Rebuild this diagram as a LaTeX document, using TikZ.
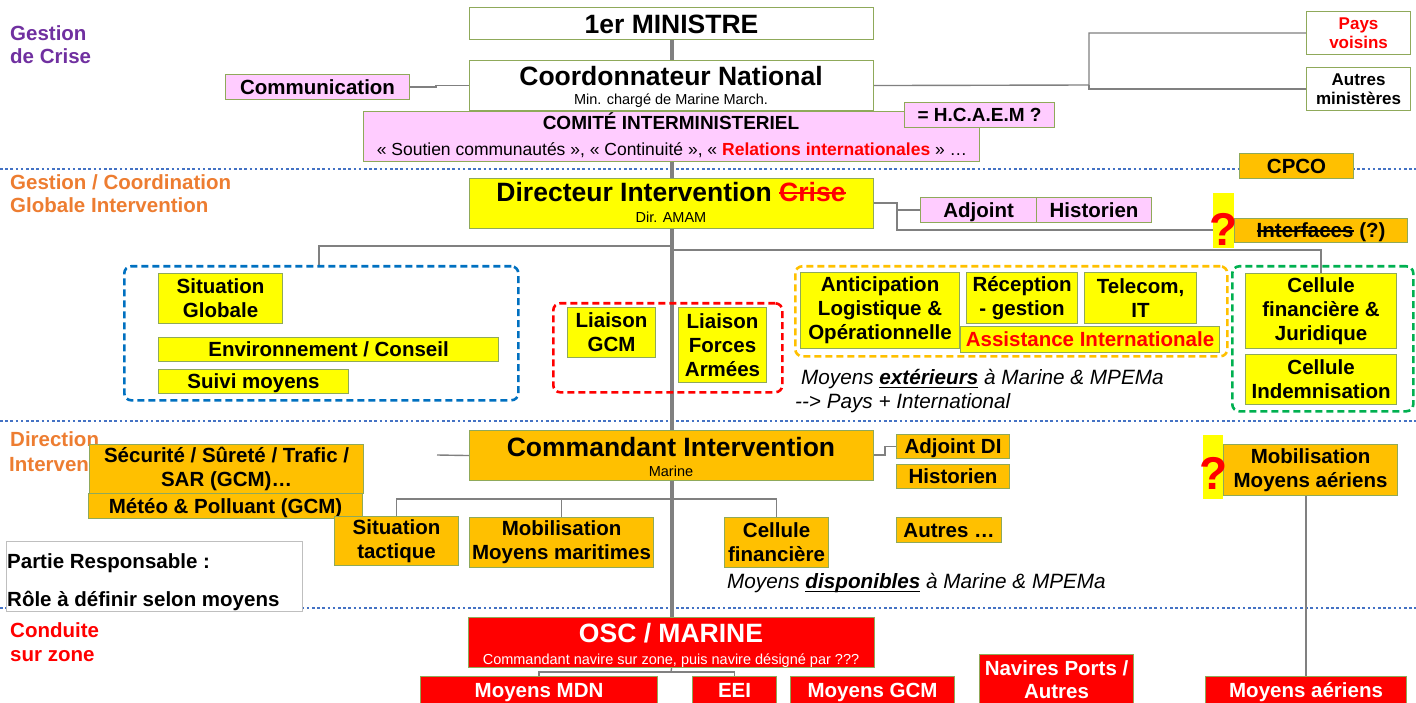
\documentclass[tikz,border=0pt]{standalone}
\usepackage{fontspec}
\setmainfont{Liberation Sans}
\usetikzlibrary{calc}
\pgfdeclarelayer{bg}
\pgfsetlayers{bg,main}
\definecolor{bord}{HTML}{8FA95A}
\definecolor{lgrey}{HTML}{808080}
\definecolor{pgrey}{HTML}{BFBFBF}
\definecolor{pinkc}{HTML}{FFCCFF}
\definecolor{yel}{HTML}{FFFF00}
\definecolor{org}{HTML}{FFC000}
\definecolor{redc}{HTML}{FF0000}
\definecolor{dblue}{HTML}{4472C4}
\definecolor{gblue}{HTML}{0070C0}
\definecolor{ggreen}{HTML}{00B050}
\definecolor{purp}{HTML}{7030A0}
\definecolor{orng}{HTML}{ED7D31}
\newcommand\fsz[2]{\fontsize{#1}{#2}\selectfont}
\newsavebox\mystrkbox
\newcommand\strk[1]{\leavevmode\sbox\mystrkbox{#1}\rlap{\rule[0.3em]{\wd\mystrkbox}{1.6pt}}\usebox\mystrkbox}
\newcommand\undl[1]{\leavevmode\sbox\mystrkbox{#1}\rlap{\rule[-0.2em]{\wd\mystrkbox}{1.6pt}}\usebox\mystrkbox}
\begin{document}
\begin{tikzpicture}[x=1pt,y=-1pt,
  bx/.style={draw=bord, line width=1.1pt, inner sep=0pt, anchor=north west, align=center, font=\bfseries\fsz{20.5}{24}, text=black},
  one/.style={text height=14.8pt, text depth=0pt},
  pk/.style={bx, fill=pinkc},
  yl/.style={bx, fill=yel},
  og/.style={bx, fill=org},
  rd/.style={bx, fill=redc, text=white},
  wh/.style={bx, fill=white},
  qm/.style={fill=yel, inner sep=0pt, anchor=north west, text depth=0pt, text=redc, font=\bfseries\fsz{46}{46}},
  grp/.style={line width=2.6pt, dash pattern=on 7pt off 4pt, rounded corners=7pt, inner sep=0pt, anchor=north west},
  conn/.style={draw=lgrey, line width=1.4pt},
  trunkline/.style={draw=lgrey, line width=4pt},
  sepline/.style={draw=dblue, line width=2.6pt, dash pattern=on 2.6pt off 2.6pt},
  lbl/.style={inner sep=0pt, anchor=base west, font=\bfseries\fsz{20.5}{24}},
  sub/.style={inner sep=0pt, anchor=base, font=\fsz{14.5}{16}},
  ttl/.style={inner sep=0pt, anchor=base, font=\bfseries\fsz{26.5}{30}},
  note/.style={inner sep=0pt, anchor=base west, font=\itshape\fsz{20.7}{24}}]
\useasboundingbox (0,0) rectangle (1416,703);

% section labels
\node[lbl, text=purp] (l1a) at (10,41) {Gestion};
\node[lbl, text=purp] (l1b) at (10,64) {de Crise};
\node[lbl, text=orng] (l2a) at (10,190) {Gestion / Coordination};
\node[lbl, text=orng] (l2b) at (10,213) {Globale Intervention};
\node[lbl, text=orng] (l3a) at (10,446) {Direction};
\node[lbl, text=orng] (l3b) at (9,471) {Interven};
\node[lbl, text=redc] (l4a) at (10,637) {Conduite};
\node[lbl, text=redc] (l4b) at (10,661) {sur zone};

% top level
\node[wh, minimum width=404pt, minimum height=32pt, font=\bfseries\fsz{26.5}{30}, text height=19pt, text depth=0pt] (min) at (469,7) {1er MINISTRE};
\node[wh, minimum width=404pt, minimum height=50pt] (coord) at (469,60) {};
\node[ttl] (coordt) at (671,86) {Coordonnateur National};
\node[sub] (coords) at (671,105) {Min. chargé de Marine March.};
\node[pk, minimum width=616pt, minimum height=50pt] (comite) at (363,111) {};
\node[inner sep=0pt, anchor=base, font=\bfseries\fsz{19}{22}] (comitet) at (671,130) {COMITÉ INTERMINISTERIEL};
\node[inner sep=0pt, anchor=base, font=\fsz{17.5}{20}] (comites) at (672,155.5) {« Soutien communautés », « Continuité », « \textcolor{redc}{\textbf{Relations internationales}} » …};
\node[pk, minimum width=150pt, minimum height=25pt, font=\bfseries\fsz{19}{22}, text height=13.7pt, text depth=0pt] (hcaem) at (904,102) {= H.C.A.E.M ?};
\node[pk, one, minimum width=184pt, minimum height=25pt] (comm) at (225,74) {Communication};
\node[wh, minimum width=104pt, minimum height=43pt, text=redc, font=\bfseries\fsz{17}{19.5}] (pays) at (1306,11) {Pays\\voisins};
\node[wh, minimum width=104pt, minimum height=43pt, font=\bfseries\fsz{17}{19.5}] (autres) at (1306,67) {Autres\\ministères};
\node[og, one, minimum width=114pt, minimum height=25pt] (cpco) at (1239,153) {CPCO};

% directeur level
\node[yl, minimum width=404pt, minimum height=50pt] (dir) at (469,178) {};
\node[ttl] (dirt) at (671,201.5) {Directeur Intervention \textcolor{redc}{\strk{Crise}}};
\node[sub] (dirs) at (671,223) {Dir. AMAM};
\node[pk, one, minimum width=116pt, minimum height=25pt] (adj) at (920,197) {Adjoint};
\node[pk, one, minimum width=115pt, minimum height=25pt] (hist) at (1036,197) {Historien};
\node[og, one, minimum width=173pt, minimum height=24pt] (interf) at (1234,218) {\strk{Interfaces} (?)};
\node[qm, text height=49pt, minimum height=55pt] (q1) at (1213,193) {\makebox[21pt]{?}};

% groups
\node[grp, draw=gblue, minimum width=394pt, minimum height=134pt] (gb) at (123,265) {};
\node[grp, draw=redc, minimum width=229pt, minimum height=89pt] (gr) at (552,302) {};
\node[grp, draw=org, minimum width=432pt, minimum height=90pt] (go) at (794,265) {};
\node[grp, draw=ggreen, minimum width=181pt, minimum height=145pt] (gg) at (1231,265) {};

\node[yl, minimum width=124pt, minimum height=50pt] (sitg) at (158,273) {Situation\\Globale};
\node[yl, one, minimum width=340pt, minimum height=24pt] (env) at (158,337) {Environnement / Conseil};
\node[yl, one, minimum width=190pt, minimum height=24pt] (suivi) at (158,369) {Suivi moyens};
\node[yl, minimum width=88pt, minimum height=50pt] (lgcm) at (567,307) {Liaison\\GCM};
\node[yl, minimum width=88pt, minimum height=75pt] (lfa) at (678,307) {Liaison\\Forces\\Armées};
\node[yl, minimum width=159pt, minimum height=76pt] (antic) at (800,272) {Anticipation\\Logistique \&\\Opérationnelle};
\node[yl, minimum width=111pt, minimum height=51pt] (recep) at (966,272) {Réception\\- gestion};
\node[yl, minimum width=112pt, minimum height=51pt] (tele) at (1084,272) {Telecom,\\IT};
\node[yl, one, minimum width=259pt, minimum height=26pt, text=redc] (assist) at (960,326) {Assistance Internationale};
\node[yl, minimum width=151pt, minimum height=75pt] (cfj) at (1245,273) {Cellule\\financière \&\\Juridique};
\node[yl, minimum width=151pt, minimum height=50pt] (cind) at (1245,354) {Cellule\\Indemnisation};
\node[note] (ext1) at (801,384) {Moyens \textbf{\undl{extérieurs}} à Marine \& MPEMa};
\node[note] (ext2) at (795,408) {-{}-> Pays + International};

% commandant level
\node[og, minimum width=404pt, minimum height=50pt] (cmd) at (469,430) {};
\node[ttl] (cmdt) at (671,456) {Commandant Intervention};
\node[sub] (cmds) at (671,476) {Marine};
\node[og, one, minimum width=113pt, minimum height=24pt] (adjdi) at (896,434) {Adjoint DI};
\node[og, one, minimum width=113pt, minimum height=24pt] (histdi) at (896,464) {Historien};
\node[og, minimum width=274pt, minimum height=49pt] (secu) at (89,444) {Sécurité / Sûreté / Trafic /\\SAR (GCM)…};
\node[og, one, minimum width=274pt, minimum height=25pt] (meteo) at (88,493) {Météo \& Polluant (GCM)};
\node[og, minimum width=124pt, minimum height=49pt] (sitt) at (334,516) {Situation\\tactique};
\node[og, minimum width=184pt, minimum height=50pt] (mobm) at (469,517) {Mobilisation\\Moyens maritimes};
\node[og, minimum width=104pt, minimum height=50pt] (cfin) at (724,517) {Cellule\\financière};
\node[og, one, minimum width=105pt, minimum height=25pt] (autres2) at (896,517) {Autres …};
\node[note] (disp) at (727,588) {Moyens \textbf{\undl{disponibles}} à Marine \& MPEMa};
\node[og, minimum width=174pt, minimum height=51pt] (mobair) at (1223,444) {Mobilisation\\Moyens aériens};
\node[qm, text height=44pt, minimum height=64pt] (q2) at (1203,435) {\makebox[20pt]{?}};

% partie responsable
\node[bx, draw=pgrey, fill=white, line width=1pt, minimum width=296pt, minimum height=70pt] (partie) at (6,541) {};
\node[lbl] (pr1) at (7,568) {Partie Responsable :};
\node[lbl] (pr2) at (7,606) {Rôle à définir selon moyens};

% conduite level
\node[rd, minimum width=406pt, minimum height=50pt] (osc) at (468,617) {};
\node[ttl, text=white] (osct) at (671,642) {OSC / MARINE};
\node[sub, text=white] (oscs) at (671,664) {Commandant navire sur zone, puis navire désigné par ???};
\node[rd, one, minimum width=237pt, minimum height=27pt] (mdn) at (420,676) {Moyens MDN};
\node[rd, one, minimum width=84pt, minimum height=27pt] (eei) at (692,676) {EEI};
\node[rd, one, minimum width=164pt, minimum height=27pt] (mgcm) at (790,676) {Moyens GCM};
\node[rd, minimum width=154pt, minimum height=50pt, font=\bfseries\fsz{20.5}{23.5}] (navp) at (979,654) {Navires Ports /\\Autres};
\node[rd, one, minimum width=201pt, minimum height=27pt] (maer) at (1205,676) {Moyens aériens};

% connectors and separators
\begin{pgfonlayer}{bg}
\draw[sepline] (0,169) -- (1416,169);
\draw[sepline] (0,421) -- (1416,421);
\draw[sepline] (0,608) -- (1416,608);
\draw[trunkline] (min.south) -- (osc.north);
\draw[conn] (comm.east) -- ++(26,0) |- (coord.west);
\coordinate (j1) at (1089,85);
\draw[conn] (coord.east) -- (j1) |- (pays.west);
\draw[conn] (j1) |- (autres.west);
\coordinate (j2) at (897,203);
\coordinate (j3) at (897,230);
\draw[conn] (dir.east |- j2) -- (j2) -- (j3) -- (j3 -| q1.west);
\draw[conn] (j2 |- adj.west) -- (adj.west);
\coordinate (tb1) at (671,246);
\coordinate (gbt) at (319,265);
\draw[conn] (tb1) -| (gbt);
\coordinate (tb2) at (671,250);
\draw[conn] (tb2) -| (cfj.north);
\draw[conn] (cmd.east |- 0,455) -- ++(11,0) |- (adjdi.west);
\coordinate (stub) at (437,455);
\draw[conn] (stub) -- (cmd.west);
\coordinate (tb3) at (671,499);
\draw[conn] (sitt.north) |- (tb3) -| (cfin.north);
\draw[conn] (mobm.north) -- (mobm.north |- tb3);
\draw[conn] (maer.north) -- (maer.north |- mobair.south);
\coordinate (tb4) at (671,672);
\draw[conn] (osc.south) -- (tb4);
\draw[conn] (mdn.north) |- (tb4) -| (eei.north);
\end{pgfonlayer}
\end{tikzpicture}
\end{document}
